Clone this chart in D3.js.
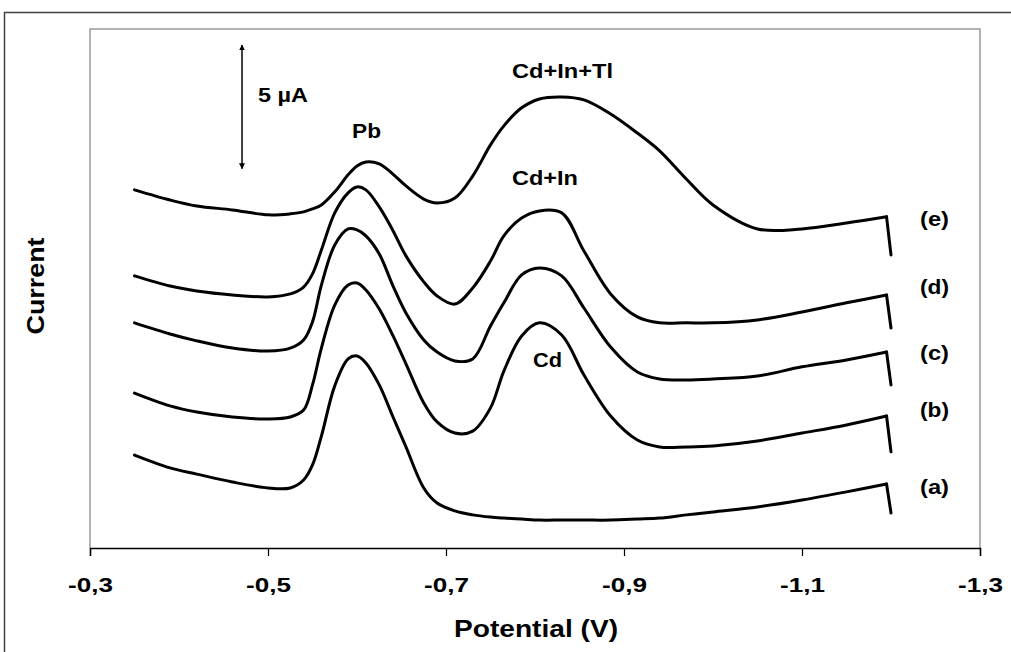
<!DOCTYPE html>
<html><head><meta charset="utf-8">
<script src="https://cdn.jsdelivr.net/npm/d3@7"></script>
<style>html,body{margin:0;padding:0;background:#fff;}svg{display:block;}</style>
</head><body>
<script>
// ---- data ----
const potential = [-0.35,-0.39,-0.42,-0.46,-0.50,-0.525,-0.54,-0.55,-0.56,-0.575,-0.59,-0.60,-0.61,-0.625,-0.64,-0.655,-0.675,-0.69,-0.71,-0.73,-0.75,-0.765,-0.785,-0.805,-0.83,-0.855,-0.885,-0.915,-0.94,-0.97,-1.00,-1.05,-1.10,-1.15,-1.195,-1.20];
const curveA = [3.76,3.24,2.99,2.67,2.43,2.43,2.75,3.36,4.53,6.56,7.65,7.77,7.49,6.60,5.34,4.09,2.43,1.82,1.50,1.34,1.25,1.21,1.17,1.13,1.13,1.13,1.13,1.17,1.21,1.34,1.46,1.66,1.94,2.27,2.59,1.42];
const curveB = [6.27,5.75,5.50,5.30,5.22,5.30,5.58,6.60,8.09,9.83,10.64,10.72,10.44,9.67,8.62,7.45,5.87,5.10,4.65,4.73,5.67,7.16,8.58,9.11,8.62,7.00,5.34,4.37,4.09,4.09,4.13,4.33,4.65,4.98,5.34,3.89];
const curveC = [9.11,8.66,8.38,8.09,7.97,8.09,8.42,9.15,10.64,12.26,12.91,12.87,12.63,11.90,10.64,9.51,8.42,7.93,7.57,7.65,8.98,9.92,11.05,11.33,11.01,9.71,8.13,7.12,6.84,6.80,6.84,6.96,7.33,7.61,7.93,6.60];
const curveD = [11.01,10.60,10.40,10.24,10.16,10.28,10.56,11.09,12.06,13.56,14.37,14.61,14.49,13.80,12.87,11.82,10.77,10.20,9.87,10.52,11.61,12.63,13.35,13.64,13.56,12.02,10.28,9.35,9.11,9.11,9.11,9.23,9.55,9.92,10.24,8.90];
const curveE = [14.49,14.08,13.84,13.68,13.48,13.52,13.60,13.72,13.88,14.41,15.10,15.46,15.62,15.54,15.14,14.65,14.12,13.96,14.16,15.05,16.31,17.08,17.81,18.17,18.25,18.13,17.56,16.79,16.07,14.93,13.88,12.91,12.91,13.15,13.40,11.86];
const seriesNames = ["(a)","(b)","(c)","(d)","(e)"];
const xTicks = [-0.3,-0.5,-0.7,-0.9,-1.1,-1.3];
const xDomain = [-0.3,-1.3];
const yDomain = [0,21];
const scaleBar = {E:-0.4708, from:15.35, to:20.35, label:"5 µA"};
// annotation text: [text, potential, current, width]
const peakLabels = [["5 µA",-0.5169,18.05,50],["Pb",-0.6107,16.59,29],["Cd+In+Tl",-0.8309,19.02,101],["Cd+In",-0.8112,14.69,66],["Cd",-0.814,7.33,29]];
const seriesLabelE = -1.2489;
const seriesLabelI = [2.19,5.30,7.61,10.28,13.03];

// ---- layout ----
const W=1011,H=652;
const L=90,R=980,T=29,B=548;
const svg=d3.select("body").append("svg").attr("width",W).attr("height",H);
const font="'Liberation Sans', Arial, sans-serif";

const x=d3.scaleLinear().domain(xDomain).range([L,R]);
const y=d3.scaleLinear().domain(yDomain).range([B,T]);

// outer frame
svg.append("path").attr("d",`M4.5,${H} V12.5 H${W}`).attr("fill","none").attr("stroke","#404040").attr("stroke-width",1.5);

// plot area border
svg.append("path").attr("d",`M${L},${B} V${T} H${R} V${B}`).attr("fill","none").attr("stroke","#9a9a9a").attr("stroke-width",1.5);

// x axis
const loc=d3.formatLocale({decimal:",",thousands:".",grouping:[3],currency:["",""],minus:"-"});
const fmt=loc.format(".1f");
const ax=svg.append("g").attr("transform",`translate(0,${B})`)
  .call(d3.axisBottom(x).tickValues(xTicks).tickFormat(fmt).tickSize(8).tickPadding(21));
ax.select(".domain").attr("stroke","#000").attr("stroke-width",1.5);
ax.selectAll(".tick line").attr("stroke","#000").attr("stroke-width",1.2);
ax.selectAll(".tick text").attr("fill","#000").style("font-family",font).style("font-weight","bold").style("font-size","21px")
  .attr("textLength",45).attr("lengthAdjust","spacingAndGlyphs");

// axis titles
svg.append("text").attr("x",(L+R)/2+1).attr("y",637).attr("text-anchor","middle")
  .style("font-family",font).style("font-weight","bold").style("font-size","23px")
  .attr("textLength",164).attr("lengthAdjust","spacingAndGlyphs").text("Potential (V)");
svg.append("text").attr("transform","translate(44,286) rotate(-90)").attr("text-anchor","middle")
  .style("font-family",font).style("font-weight","bold").style("font-size","23px")
  .attr("textLength",97).attr("lengthAdjust","spacingAndGlyphs").text("Current");

// curves
const allCurves=[curveA,curveB,curveC,curveD,curveE];
const body=d3.line().x(d=>x(d[0])).y(d=>y(d[1])).curve(d3.curveCatmullRom.alpha(0.5));
const tail=d3.line().x(d=>x(d[0])).y(d=>y(d[1]));
allCurves.forEach(c=>{
  const pts=potential.map((p,i)=>[p,c[i]]);
  const n=pts.length;
  svg.append("path").attr("d",body(pts.slice(0,n-1))).attr("fill","none").attr("stroke","#000").attr("stroke-width",3).attr("stroke-linejoin","round").attr("stroke-linecap","round");
  svg.append("path").attr("d",tail(pts.slice(n-2))).attr("fill","none").attr("stroke","#000").attr("stroke-width",3).attr("stroke-linecap","round");
});

// scale bar
const defs=svg.append("defs");
defs.append("marker").attr("id","ah").attr("viewBox","0 0 10 10").attr("refX",9).attr("refY",5)
  .attr("markerWidth",6).attr("markerHeight",6).attr("markerUnits","userSpaceOnUse").attr("orient","auto-start-reverse")
  .append("path").attr("d","M0,0 L10,5 L0,10 z").attr("fill","#000");
svg.append("line").attr("x1",x(scaleBar.E)).attr("x2",x(scaleBar.E)).attr("y1",y(scaleBar.from)).attr("y2",y(scaleBar.to))
  .attr("stroke","#000").attr("stroke-width",1.5).attr("marker-start","url(#ah)").attr("marker-end","url(#ah)");

// labels
peakLabels.forEach(([t,e,i,w])=>{
  svg.append("text").attr("x",x(e)).attr("y",y(i)).attr("text-anchor","middle")
    .style("font-family",font).style("font-weight","bold").style("font-size","20px")
    .attr("textLength",w).attr("lengthAdjust","spacingAndGlyphs").text(t);
});
seriesNames.forEach((s,k)=>{
  svg.append("text").attr("x",x(seriesLabelE)).attr("y",y(seriesLabelI[k])).attr("text-anchor","middle")
    .style("font-family",font).style("font-weight","bold").style("font-size","20px")
    .attr("textLength",29).attr("lengthAdjust","spacingAndGlyphs").text(s);
});
</script>
</body></html>
